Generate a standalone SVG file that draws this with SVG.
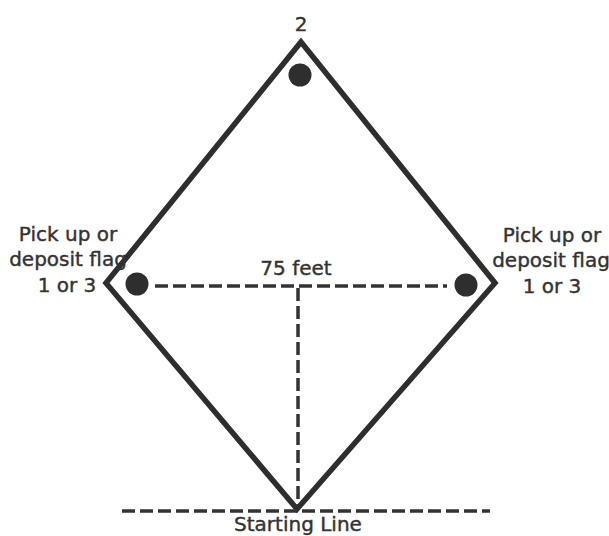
<svg xmlns="http://www.w3.org/2000/svg" width="609" height="536" viewBox="0 0 609 536">
<style>
text{font-family:"DejaVu Sans",Verdana,sans-serif;font-size:20px;fill:#333;stroke:#333;stroke-width:0.4;text-anchor:middle}
.dash{stroke:#333;stroke-width:3.5;stroke-dasharray:13 5;fill:none}
.dot{fill:#2e2e2e}
</style>
<rect width="609" height="536" fill="#fff"/>
<g id="connectors">
<polygon id="diamond" points="301,42 495,283 297,509 106,283" fill="none" stroke="#2e2e2e" stroke-width="5.5" stroke-linejoin="miter"/>
<line class="dash" x1="155" y1="286" x2="447" y2="286"/>
<line class="dash" x1="298" y1="288" x2="298" y2="505"/>
<line class="dash" x1="122" y1="511" x2="490" y2="511"/>
</g>
<g id="base2"><circle class="dot" cx="300" cy="75" r="11.5"/><text x="301" y="31">2</text></g>
<g id="base1"><circle class="dot" cx="137" cy="284" r="11.5"/><text x="68" y="241">Pick up or</text><text x="68" y="266">deposit flag</text><text x="67" y="292">1 or 3</text></g>
<g id="base3"><circle class="dot" cx="466" cy="285" r="11.5"/><text x="552" y="242">Pick up or</text><text x="551" y="267">deposit flag</text><text x="552" y="293">1 or 3</text></g>
<g id="label75"><text x="296" y="275">75 feet</text></g>
<g id="start"><text x="298" y="531">Starting Line</text></g>
</svg>
